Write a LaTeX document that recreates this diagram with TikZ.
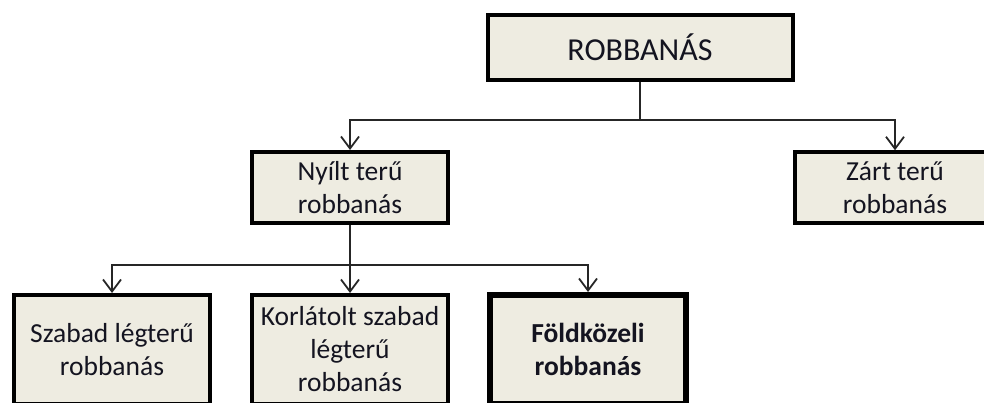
\documentclass[tikz,border=0pt]{standalone}
\usepackage{fontspec}
\setmainfont{Carlito}
\usetikzlibrary{arrows.meta,positioning}
\definecolor{boxfill}{HTML}{EEECE1}
\definecolor{betu}{HTML}{141420}

\begin{document}
\begin{tikzpicture}[x=1pt,y=1pt,on grid,
    doboz/.style={draw=black,fill=boxfill,line width=4pt,align=center,
      minimum width=196pt,minimum height=71pt,inner sep=2pt,text=betu,
      font=\fontsize{27.5}{33}\selectfont},
    also/.style={doboz,minimum height=109pt},
    nyil/.style={draw=black!85,line width=1.8pt,-{Straight Barb[length=12pt,width=18pt]}}]
  \path[use as bounding box,clip] (0,0) rectangle (984,-403);
  \node[doboz,minimum width=305pt,minimum height=65pt,
    font=\fontsize{32}{38}\selectfont] (root) at (640,-47.5) {ROBBANÁS};
  \node[doboz] (nyilt) [below left=140pt and 290pt of root] {Nyílt terű\\robbanás};
  \node[doboz,minimum width=200pt,line width=3.5pt] (zart) [right=545pt of nyilt] {Zárt terű\\robbanás};
  \node[also] (korl) [below=162pt of nyilt] {Korlátolt szabad\\légterű\\robbanás};
  \node[also] (szabad) [left=238pt of korl] {Szabad légterű\\robbanás};
  \node[also,line width=6pt,font=\fontsize{27.5}{33}\selectfont\bfseries] (fold)
    [right=238pt of korl] {Földközeli\\robbanás};
  % connectors
  \draw[nyil] (root.south) -- ++(0,-38pt) -| (nyilt.north);
  \draw[nyil] (root.south) -- ++(0,-38pt) -| (zart.north);
  \draw[nyil] (nyilt.south) -- ++(0,-40pt) -| (szabad.north);
  \draw[nyil] (nyilt.south) -- (korl.north);
  \draw[nyil] (nyilt.south) -- ++(0,-40pt) -| (fold.north);
\end{tikzpicture}
\end{document}
